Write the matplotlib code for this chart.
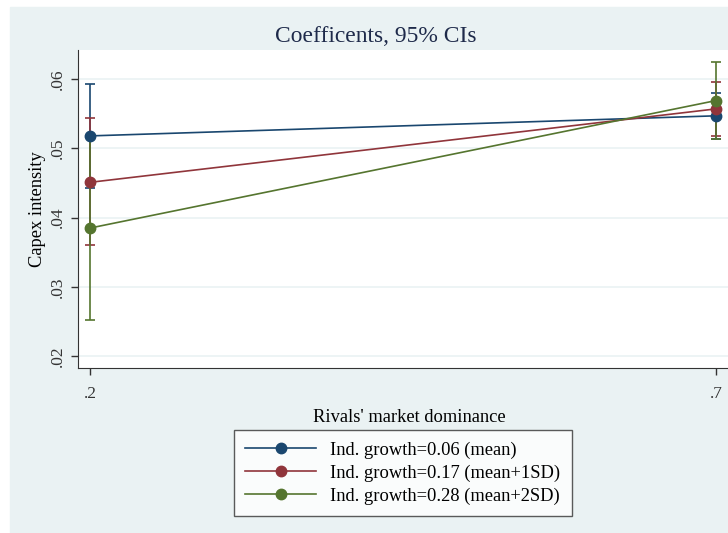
import matplotlib.pyplot as plt
from matplotlib.patches import Rectangle

# rivals' market dominance levels
x_vals = [0.2, 0.7]

labels = ["Ind. growth=0.06 (mean)",
          "Ind. growth=0.17 (mean+1SD)",
          "Ind. growth=0.28 (mean+2SD)"]

est_mean = [0.0518, 0.0547]
lo_mean = [0.0443, 0.0513]
hi_mean = [0.0593, 0.0580]

est_1sd = [0.0451, 0.0557]
lo_1sd = [0.0360, 0.0518]
hi_1sd = [0.0544, 0.0596]

est_2sd = [0.0385, 0.0569]
lo_2sd = [0.0253, 0.0513]
hi_2sd = [0.0516, 0.0624]

y_ticks = [0.02, 0.03, 0.04, 0.05, 0.06]
y_ticklabels = [".02", ".03", ".04", ".05", ".06"]
x_ticklabels = [".2", ".7"]

colors = ["#1A476F", "#90353B", "#55752F"]
bg = "#EAF2F3"

plt.rcParams['font.family'] = ['Liberation Serif', 'DejaVu Serif']

fig = plt.figure(figsize=(7.28, 5.33), dpi=100, facecolor="white")
fig.patches.append(Rectangle((10 / 728, 0), 1, 1 - 7 / 533,
                             transform=fig.transFigure, color=bg, zorder=-10))

ax = fig.add_axes([78 / 728, 1 - 368 / 533, (740 - 78) / 728, (368 - 50) / 533])
ax.set_facecolor("white")

series = [(est_mean, lo_mean, hi_mean), (est_1sd, lo_1sd, hi_1sd), (est_2sd, lo_2sd, hi_2sd)]
handles = []
for (est, lo, hi), c, lab in zip(series, colors, labels):
    err = [[e - l for e, l in zip(est, lo)], [h - e for e, h in zip(est, hi)]]
    ax.errorbar(x_vals, est, yerr=err, fmt="none", ecolor=c, elinewidth=1.2,
                capsize=3.6, capthick=1.2, zorder=2)
    h, = ax.plot(x_vals, est, color=c, lw=1.2, marker="o", ms=7.5, zorder=3, label=lab)
    handles.append(h)

ax.set_xlim(0.1904, 0.7192)
ax.set_ylim(0.0183, 0.0642)
ax.set_yticks(y_ticks)
ax.set_yticklabels(y_ticklabels, rotation=90, va="center")
ax.set_xticks(x_vals)
ax.set_xticklabels(x_ticklabels)
ax.tick_params(axis="both", direction="out", length=5, width=1, labelsize=12.5, colors="#333333")
ax.tick_params(axis="x", pad=8)
ax.grid(axis="y", color=bg, lw=1.2)
ax.set_axisbelow(True)
for s in ["top", "right"]:
    ax.spines[s].set_visible(False)
for s in ["left", "bottom"]:
    ax.spines[s].set_color("#333333")

fig.text(376 / 728, 1 - 37 / 533, "Coefficents, 95% CIs", fontsize=16.9,
         color="#1E2A4A", ha="center", va="center")
ax.set_ylabel("Capex intensity", fontsize=13.3, labelpad=3)
ax.set_xlabel("Rivals' market dominance", fontsize=13.3, labelpad=5)

leg = fig.legend(handles=handles, loc="center", bbox_to_anchor=(403 / 728, 1 - 473 / 533),
                 fontsize=13.3, frameon=True, fancybox=False, edgecolor="#333333",
                 handlelength=3.8, borderpad=0.6, labelspacing=0.3)
leg.get_frame().set_linewidth(1.0)

fig.savefig("out.png", dpi=100, facecolor="white")
